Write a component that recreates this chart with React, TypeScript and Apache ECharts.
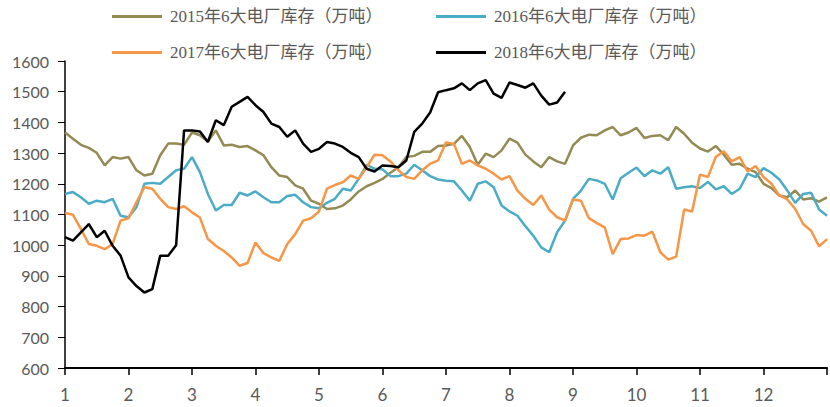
import React, { useEffect, useRef } from "react";
import * as echarts from "echarts";

// sampling: one reading every 1/8 month, starting at month 1
const STEP = 1 / 8;
const START = 1;

const xTickLabels = ["1", "2", "3", "4", "5", "6", "7", "8", "9", "10", "11", "12"];

const names = [
  "2015年6大电厂库存（万吨）",
  "2016年6大电厂库存（万吨）",
  "2017年6大电厂库存（万吨）",
  "2018年6大电厂库存（万吨）",
];

const v2015 = [
  1367, 1347, 1327, 1317, 1301, 1260, 1287, 1282, 1287, 1244, 1227, 1233, 1293, 1331, 1331, 1327,
  1367, 1358, 1338, 1374, 1325, 1327, 1320, 1323, 1309, 1293, 1254, 1227, 1222, 1195, 1184, 1145,
  1135, 1118, 1120, 1129, 1149, 1175, 1192, 1203, 1216, 1236, 1254, 1287, 1291, 1304, 1304, 1323,
  1325, 1330, 1356, 1320, 1262, 1298, 1287, 1309, 1347, 1334, 1295, 1273, 1254, 1287, 1273, 1265,
  1325, 1350, 1360, 1358, 1374, 1385, 1358, 1367, 1382, 1349, 1356, 1358, 1342, 1385, 1363, 1334,
  1315, 1305, 1323, 1295, 1262, 1265, 1249, 1238, 1200, 1186, 1162, 1156, 1178, 1149, 1153, 1142,
  1156,
];

const v2016 = [
  1167, 1173, 1156, 1135, 1145, 1140, 1151, 1096, 1091, 1124, 1200, 1203, 1200, 1222, 1244, 1249,
  1287, 1238, 1167, 1113, 1131, 1131, 1171, 1162, 1175, 1156, 1140, 1140, 1160, 1164, 1140, 1124,
  1120, 1138, 1151, 1184, 1178, 1216, 1262, 1249, 1247, 1225, 1225, 1233, 1262, 1244, 1225, 1214,
  1210, 1208, 1178, 1145, 1200, 1208, 1189, 1129, 1110, 1096, 1062, 1031, 993, 977, 1042, 1080,
  1151, 1178, 1216, 1211, 1200, 1149, 1218, 1236, 1253, 1225, 1244, 1233, 1254, 1184, 1189, 1192,
  1186, 1206, 1182, 1192, 1167, 1184, 1233, 1222, 1251, 1236, 1214, 1178, 1138, 1167, 1171, 1116,
  1096,
];

const v2017 = [
  1105, 1099, 1053, 1004, 998, 987, 1004, 1080, 1088, 1140, 1189, 1184, 1151, 1124, 1118, 1127,
  1107, 1090, 1020, 998, 981, 960, 933, 942, 1009, 974, 960, 949, 1004, 1036, 1080, 1088,
  1110, 1184, 1196, 1205, 1227, 1216, 1254, 1295, 1293, 1273, 1244, 1222, 1216, 1244, 1265, 1276,
  1335, 1330, 1265, 1276, 1260, 1249, 1233, 1214, 1225, 1178, 1151, 1131, 1162, 1116, 1091, 1080,
  1149, 1145, 1088, 1072, 1058, 971, 1020, 1022, 1033, 1031, 1044, 977, 953, 963, 1116, 1110,
  1230, 1222, 1288, 1306, 1273, 1287, 1240, 1258, 1222, 1200, 1162, 1149, 1118, 1069, 1047, 996,
  1020,
];

const v2018 = [
  1026, 1015, 1042, 1069, 1026, 1047, 998, 966, 895, 867, 846, 857, 966, 966, 1000, 1374,
  1374, 1370, 1336, 1407, 1391, 1451, 1467, 1483, 1456, 1434, 1396, 1385, 1353, 1374, 1331, 1304,
  1314, 1336, 1331, 1320, 1301, 1287, 1249, 1240, 1260, 1258, 1254, 1276, 1369, 1396, 1432, 1498,
  1505, 1511, 1527, 1505, 1527, 1538, 1494, 1480, 1530, 1522, 1513, 1527, 1487, 1458, 1465, 1500,
];

const colors = ["#948A54", "#4BACC6", "#F79646", "#000000"];
const allValues = [v2015, v2016, v2017, v2018];

const legendPos = [
  { left: 112, top: 8 },
  { left: 436, top: 8 },
  { left: 112, top: 44 },
  { left: 436, top: 44 },
];

export default function App() {
  const ref = useRef<HTMLDivElement>(null);

  useEffect(() => {
    if (!ref.current) return;
    const chart = echarts.init(ref.current, null, { renderer: "svg" });
    const axisFont = { fontFamily: "Lato, 'Open Sans', sans-serif", fontSize: 16, color: "#595959" };

    chart.setOption({
      animation: false,
      backgroundColor: "#ffffff",
      legend: names.map((n, i) => ({
        data: [n],
        left: legendPos[i].left,
        top: legendPos[i].top,
        padding: 0,
        icon: "rect",
        itemWidth: 50,
        itemHeight: 3,
        itemGap: 8,
        selectedMode: false,
        textStyle: {
          fontFamily: "'Liberation Serif', 'Noto Sans CJK SC', serif",
          fontSize: 17,
          color: "#595959",
          padding: [0, 0, 0, 3],
        },
      })),
      grid: { left: 65, right: 3, top: 61, bottom: 39, containLabel: false },
      xAxis: {
        type: "value",
        min: 1,
        max: 13,
        interval: 1,
        axisLine: { show: true, lineStyle: { color: "#000", width: 2 } },
        axisTick: { show: true, inside: false, length: 7, lineStyle: { color: "#000", width: 1.5 } },
        splitLine: { show: false },
        axisLabel: {
          ...axisFont,
          fontSize: 17,
          margin: 18,
          formatter: (v: number) => xTickLabels[Math.round(v) - 1] ?? "",
        },
      },
      yAxis: {
        type: "value",
        min: 600,
        max: 1600,
        interval: 100,
        axisLine: { show: true, lineStyle: { color: "#000", width: 1.5 } },
        axisTick: { show: true, inside: false, length: 7, lineStyle: { color: "#000", width: 1 } },
        splitLine: { show: false },
        axisLabel: { ...axisFont, margin: 16, formatter: (v: number) => String(v) },
      },
      series: allValues.map((vals, k) => ({
        name: names[k],
        type: "line",
        showSymbol: false,
        symbol: "none",
        color: colors[k],
        lineStyle: { color: colors[k], width: 2.5 },
        data: vals.map((v, i) => [START + i * STEP, v]),
      })),
    });

    return () => chart.dispose();
  }, []);

  return (
    <div
      ref={ref}
      style={{ position: "fixed", left: 0, top: 0, width: 830, height: 407 }}
    />
  );
}
